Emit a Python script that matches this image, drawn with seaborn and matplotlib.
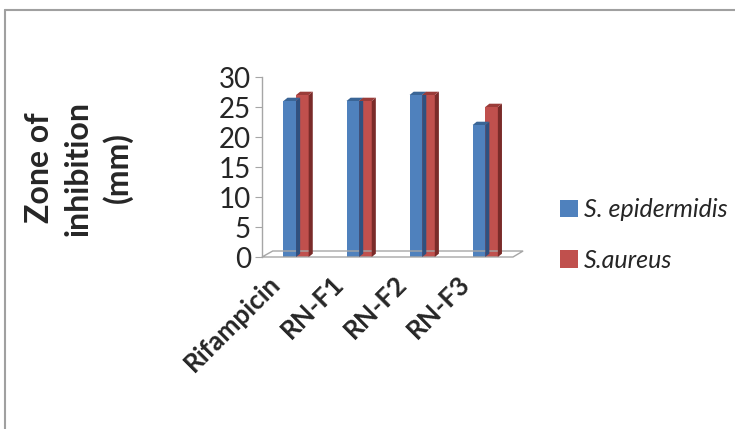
import pandas as pd
import matplotlib.pyplot as plt
import matplotlib.transforms as mtransforms
from matplotlib.patches import Polygon
from matplotlib.lines import Line2D
import seaborn as sns

# data
samples = ['Rifampicin', 'RN-F1', 'RN-F2', 'RN-F3']
s_epidermidis = [26, 26, 27, 22]
s_aureus = [27, 26, 27, 25]
series_names = ['S. epidermidis', 'S.aureus']
yticks = [0, 5, 10, 15, 20, 25, 30]

df = pd.DataFrame({
    'sample': samples * 2,
    'zone': s_epidermidis + s_aureus,
    'organism': [series_names[0]] * 4 + [series_names[1]] * 4,
})

sns.set_style('white')
plt.rcParams['font.family'] = ['Lato', 'DejaVu Sans']

colors = ['#4F81BD', '#C0504D']
side_colors = ['#2F5180', '#7A2B29']
top_colors = ['#3A6596', '#9A3C39']

fig = plt.figure(figsize=(7.35, 4.29), dpi=100)
ax = fig.add_axes([262 / 735, 172 / 429, 251 / 735, 180 / 429])

sns.barplot(data=df, x='sample', y='zone', hue='organism', palette=colors,
            width=0.4, ax=ax, legend=False, saturation=1)

ax.set_xlim(-0.54, 3.44)
ax.set_ylim(0, 30)

# fake 3D depth: side and top faces of each bar
dx, dy = 0.065, 0.55
for i, cont in enumerate(ax.containers):
    for bar in cont:
        x0 = bar.get_x()
        x1 = x0 + bar.get_width()
        h = bar.get_height()
        bar.set_edgecolor('none')
        side = Polygon([(x1, 0), (x1 + dx, dy), (x1 + dx, h + dy), (x1, h)],
                       closed=True, facecolor=side_colors[i], edgecolor='none',
                       clip_on=False, zorder=3)
        top = Polygon([(x0, h), (x0 + dx, h + dy), (x1 + dx, h + dy), (x1, h)],
                      closed=True, facecolor=top_colors[i], edgecolor='none',
                      clip_on=False, zorder=3)
        ax.add_patch(side)
        ax.add_patch(top)

# floor outline
floor = Polygon([(-0.54, 0), (3.44, 0), (3.60, 1.0), (-0.37, 1.0)], closed=True,
                facecolor='none', edgecolor='#A6A6A6', linewidth=1.0,
                clip_on=False, zorder=1)
ax.add_patch(floor)

for side in ['top', 'right', 'bottom']:
    ax.spines[side].set_visible(False)
ax.spines['left'].set_color('#A6A6A6')
ax.spines['left'].set_linewidth(1.0)

ax.set_yticks(yticks)
ax.tick_params(axis='y', length=5, color='#A6A6A6', labelsize=20, pad=3, left=True)
ax.tick_params(axis='x', length=0, pad=10)
ax.set_xticks(range(len(samples)))
ax.set_xticklabels(samples, rotation=45, ha='right', rotation_mode='anchor',
                   fontsize=19, fontweight='bold')
offset = mtransforms.ScaledTranslation(-28 / 100, 0, fig.dpi_scale_trans)
for lbl in ax.get_xticklabels():
    lbl.set_transform(lbl.get_transform() + offset)

ax.set_xlabel('')
ax.set_ylabel('')
fig.text(79 / 735, 1 - 168 / 429, 'Zone of\ninhibition\n(mm)', rotation=90,
         ha='center', va='center', fontsize=23, fontweight='bold',
         multialignment='center', linespacing=1.4)

handles = [plt.Rectangle((0, 0), 1, 1, facecolor=c, edgecolor='none') for c in colors]
leg = fig.legend(handles, series_names, loc='upper left',
                 bbox_to_anchor=(560 / 735, 1 - 198 / 429), frameon=False,
                 borderpad=0, borderaxespad=0,
                 handlelength=0.7, handleheight=0.7, handletextpad=0.25,
                 labelspacing=1.1, prop={'size': 18, 'style': 'italic'})

# outer chart border
fig.add_artist(Line2D([5 / 735, 1.0], [1 - 10 / 429, 1 - 10 / 429],
                      transform=fig.transFigure, color='#A0A0A0', linewidth=1.5))
fig.add_artist(Line2D([5 / 735, 5 / 735], [0, 1 - 10 / 429],
                      transform=fig.transFigure, color='#A0A0A0', linewidth=1.5))

fig.savefig('out.png', dpi=100)
